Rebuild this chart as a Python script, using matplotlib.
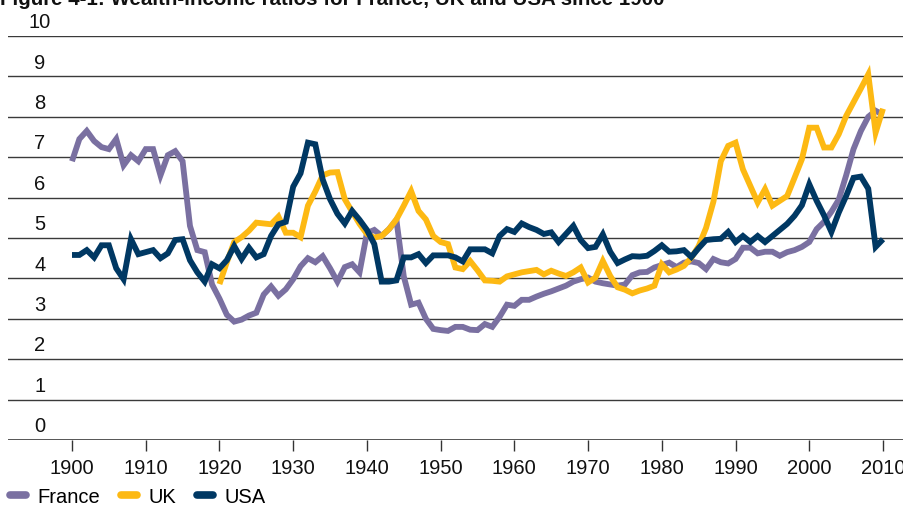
import matplotlib
matplotlib.use("Agg")
import matplotlib.pyplot as plt
from matplotlib.lines import Line2D

plt.rcParams['font.family'] = ['Liberation Sans', 'DejaVu Sans']

years_fr_us = list(range(1900, 2011))
years_uk = list(range(1920, 2011))

france = [
    6.90, 7.45, 7.65, 7.40, 7.25, 7.20, 7.45, 6.80, 7.05, 6.90,   # 1900-09
    7.20, 7.20, 6.55, 7.05, 7.15, 6.90, 5.30, 4.70, 4.65, 3.85,   # 1910-19
    3.50, 3.10, 2.93, 2.98, 3.08, 3.15, 3.60, 3.80, 3.57, 3.73,   # 1920-29
    3.98, 4.30, 4.50, 4.40, 4.55, 4.25, 3.92, 4.28, 4.35, 4.15,   # 1930-39
    5.12, 5.20, 5.05, 5.22, 5.45, 4.05, 3.35, 3.40, 3.00, 2.75,   # 1940-49
    2.72, 2.70, 2.80, 2.80, 2.73, 2.72, 2.87, 2.80, 3.05, 3.35,   # 1950-59
    3.32, 3.47, 3.47, 3.55, 3.62, 3.68, 3.75, 3.82, 3.92, 3.98,   # 1960-69
    4.02, 3.92, 3.88, 3.85, 3.82, 3.85, 4.08, 4.15, 4.16, 4.27,   # 1970-79
    4.33, 4.39, 4.28, 4.39, 4.42, 4.38, 4.23, 4.48, 4.40, 4.37,   # 1980-89
    4.48, 4.76, 4.76, 4.62, 4.66, 4.66, 4.56, 4.65, 4.70, 4.78,   # 1990-99
    4.90, 5.22, 5.40, 5.65, 5.95, 6.55, 7.20, 7.65, 8.00, 8.15,   # 2000-09
    8.05,                                                         # 2010
]

uk = [
    3.86, 4.40, 4.90, 5.02, 5.18, 5.38, 5.36, 5.34, 5.53, 5.13,   # 1920-29
    5.13, 5.02, 5.80, 6.15, 6.55, 6.62, 6.63, 5.96, 5.65, 5.35,   # 1930-39
    5.10, 5.01, 5.05, 5.22, 5.46, 5.80, 6.16, 5.67, 5.46, 5.05,   # 1940-49
    4.90, 4.85, 4.27, 4.23, 4.43, 4.20, 3.95, 3.94, 3.92, 4.05,   # 1950-59
    4.10, 4.15, 4.18, 4.21, 4.10, 4.19, 4.12, 4.06, 4.15, 4.27,   # 1960-69
    3.90, 4.02, 4.43, 4.06, 3.78, 3.72, 3.63, 3.70, 3.75, 3.82,   # 1970-79
    4.35, 4.15, 4.22, 4.31, 4.51, 4.80, 5.25, 5.90, 6.90, 7.28,   # 1980-89
    7.36, 6.70, 6.29, 5.88, 6.21, 5.80, 5.92, 6.04, 6.49, 6.95,   # 1990-99
    7.73, 7.73, 7.24, 7.24, 7.57, 8.02, 8.36, 8.70, 9.05, 7.61,   # 2000-09
    8.20,                                                         # 2010
]

usa = [
    4.58, 4.58, 4.70, 4.52, 4.82, 4.82, 4.25, 3.98, 4.97, 4.60,   # 1900-09
    4.65, 4.70, 4.50, 4.62, 4.95, 4.97, 4.45, 4.15, 3.92, 4.35,   # 1910-19
    4.25, 4.45, 4.80, 4.48, 4.76, 4.52, 4.60, 5.05, 5.34, 5.40,   # 1920-29
    6.27, 6.60, 7.36, 7.32, 6.45, 5.96, 5.60, 5.36, 5.67, 5.45,   # 1930-39
    5.20, 4.85, 3.92, 3.92, 3.95, 4.52, 4.52, 4.60, 4.38, 4.57,   # 1940-49
    4.57, 4.57, 4.52, 4.42, 4.72, 4.72, 4.72, 4.62, 5.05, 5.22,   # 1950-59
    5.15, 5.36, 5.27, 5.20, 5.10, 5.14, 4.90, 5.10, 5.30, 4.95,   # 1960-69
    4.75, 4.78, 5.09, 4.66, 4.38, 4.47, 4.55, 4.54, 4.56, 4.68,   # 1970-79
    4.82, 4.66, 4.67, 4.70, 4.53, 4.75, 4.95, 4.97, 4.98, 5.15,   # 1980-89
    4.90, 5.05, 4.90, 5.05, 4.90, 5.05, 5.20, 5.35, 5.55, 5.81,   # 1990-99
    6.33, 5.92, 5.56, 5.15, 5.63, 6.04, 6.49, 6.52, 6.22, 4.78,   # 2000-09
    4.97,                                                         # 2010
]

series_names = ['France', 'UK', 'USA']
series_colors = ['#7a70a1', '#fdb913', '#003863']
x_ticks = list(range(1900, 2011, 10))
y_ticks = list(range(0, 11))
title = 'Figure 4-1: Wealth-income ratios for France, UK and USA since 1900'

W, H = 904, 506
fig = plt.figure(figsize=(W / 100, H / 100), dpi=100)
ax = fig.add_axes([8 / W, 1 - 441 / H, 1 - 8 / W, (441 - 37) / H])

px_per_year = (883 - 72) / 110.0
ax.set_xlim(1900 - (72 - 8) / px_per_year, 1900 + (904 - 72) / px_per_year)
ax.set_ylim(0, 10)

for y in y_ticks[1:]:
    ax.axhline(y, color='#3a3a3a', lw=1.0, zorder=1)
ax.axhline(0, color='#222222', lw=1.8, zorder=1)

lw = 4.2
data = [(years_fr_us, france), (years_uk, uk), (years_fr_us, usa)]
for (xs, ys), name, c in zip(data, series_names, series_colors):
    ax.plot(xs, ys, color=c, lw=lw, label=name, zorder=3,
            solid_joinstyle='miter', solid_capstyle='butt')

for s in ax.spines.values():
    s.set_visible(False)

ax.set_xticks(x_ticks)
ax.set_xticklabels([str(t) for t in x_ticks], fontsize=14.5, color='#111111')
ax.tick_params(axis='x', length=8, width=1.0, color='#333333', pad=5)
ax.set_yticks([])

for y in y_ticks:
    ax.text(1900 - (72 - 40) / px_per_year, y + 0.12, str(y), ha='center', va='bottom',
            fontsize=14.5, color='#111111')

fig.text(0.0, 1 - 5 / H, title, fontsize=14.8, fontweight='bold', ha='left',
         va='baseline', color='#111111')

leg_handles = [Line2D([0], [0], color=c, lw=5.5, solid_capstyle='round') for c in series_colors]
fig.legend(leg_handles, series_names, loc='center left',
           bbox_to_anchor=(10 / W, 1 - 498 / H), ncol=3, frameon=False,
           fontsize=14.5, handlelength=0.8, handletextpad=0.55, columnspacing=1.05,
           borderpad=0.0, borderaxespad=0.0)

fig.savefig('out.png', dpi=100)
